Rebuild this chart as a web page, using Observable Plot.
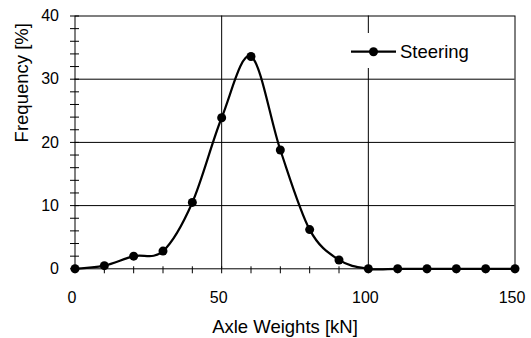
<!DOCTYPE html>
<html>
<head>
<meta charset="utf-8">
<script src="https://cdn.jsdelivr.net/npm/d3@7"></script>
<script src="https://cdn.jsdelivr.net/npm/@observablehq/plot@0.6"></script>
<style>
  html, body { margin: 0; padding: 0; background: white; }
  #chart { position: relative; width: 531px; height: 338px; }
</style>
</head>
<body>
<div id="chart"></div>
<script>
// Data
const axleWeights = [0, 10, 20, 30, 40, 50, 60, 70, 80, 90, 100, 110, 120, 130, 140, 150];
const steeringFreq = [0, 0.5, 2.0, 2.8, 10.5, 23.9, 33.6, 18.8, 6.2, 1.4, 0, 0, 0, 0, 0, 0];
const xTickLabels = [0, 50, 100, 150];
const yTickLabels = [0, 10, 20, 30, 40];
const seriesName = "Steering";
const xTitle = "Axle Weights [kN]";
const yTitle = "Frequency [%]";

const data = axleWeights.map((x, i) => ({x, y: steeringFreq[i]}));
const font = "'Liberation Sans', Arial, sans-serif";

const chart = Plot.plot({
  width: 531,
  height: 338,
  marginLeft: 74.5,
  marginRight: 16.5,
  marginTop: 15.5,
  marginBottom: 69.7,
  style: {fontFamily: font, background: "white", color: "black", overflow: "visible"},
  x: {domain: [0, 150]},
  y: {domain: [0, 40]},
  marks: [
    Plot.gridY([10, 20, 30], {stroke: "black", strokeOpacity: 1, strokeWidth: 1}),
    Plot.gridX([50, 100], {stroke: "black", strokeOpacity: 1, strokeWidth: 1}),
    Plot.frame({stroke: "black", strokeWidth: 1}),
    Plot.axisY(d3.range(0, 41, 2), {tickSize: 9, dx: 4.5, text: null, label: null, stroke: "black"}),
    Plot.axisX(d3.range(0, 151, 10), {tickSize: 7, dy: -2, text: null, label: null, stroke: "black"}),
    Plot.axisY(yTickLabels, {tickSize: 0, tickPadding: 16, fontSize: 16, label: null, fill: "black"}),
    Plot.axisX(xTickLabels, {tickSize: 0, tickPadding: 23, fontSize: 16, label: null, fill: "black", dx: -3}),
    Plot.text([yTitle], {frameAnchor: "left", text: d => d, rotate: -90, dx: -52.5, fontSize: 18.5, fill: "black", lineAnchor: "middle"}),
    Plot.text([xTitle], {frameAnchor: "bottom", text: d => d, dy: 58.5, dx: -10, fontSize: 18.5, fill: "black", lineAnchor: "middle"}),
    Plot.line(data, {x: "x", y: "y", curve: "cardinal", stroke: "black", strokeWidth: 2.2}),
    Plot.dot(data, {x: "x", y: "y", r: 4.5, fill: "black", stroke: "none"})
  ]
});

document.getElementById("chart").appendChild(chart);

// Legend (drawn inside the plot's SVG)
const svg = d3.select(chart);
const lg = svg.append("g").attr("font-family", font).attr("text-anchor", "start");
lg.append("rect").attr("x", 345).attr("y", 33).attr("width", 140).attr("height", 35).attr("fill", "white");
lg.append("line").attr("x1", 351).attr("x2", 396).attr("y1", 51.7).attr("y2", 51.7)
  .attr("stroke", "black").attr("stroke-width", 2.2);
lg.append("circle").attr("cx", 373.5).attr("cy", 51.7).attr("r", 4.5).attr("fill", "black");
lg.append("text").attr("x", 400).attr("y", 57.5).attr("font-size", 18.5).attr("fill", "black")
  .attr("text-anchor", "start").text(seriesName);
</script>
</body>
</html>
